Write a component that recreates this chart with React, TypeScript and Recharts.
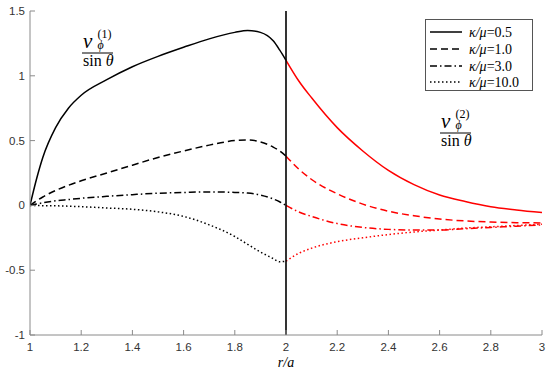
import React from 'react';
import { ComposedChart, Line, XAxis, YAxis, ReferenceLine } from 'recharts';

// r/a sample positions
const innerX = [1, 1.025, 1.05, 1.1, 1.15, 1.2, 1.3, 1.4, 1.5, 1.6, 1.7, 1.8, 1.85, 1.9, 1.95, 1.975, 2.0];
const outerX = [2.0, 2.05, 2.1, 2.2, 2.3, 2.4, 2.5, 2.6, 2.7, 2.8, 2.9, 3.0];

// inner region (black) values, v_phi^(1)/sin(theta)
const inner05 = [0, 0.2, 0.37, 0.6, 0.75, 0.85, 0.97, 1.07, 1.15, 1.22, 1.285, 1.335, 1.35, 1.335, 1.27, 1.2, 1.12];
const inner10 = [0, 0.035, 0.065, 0.115, 0.155, 0.19, 0.25, 0.31, 0.37, 0.42, 0.465, 0.5, 0.505, 0.49, 0.45, 0.42, 0.38];
const inner30 = [0, 0.01, 0.02, 0.035, 0.045, 0.055, 0.07, 0.083, 0.094, 0.1, 0.104, 0.1, 0.095, 0.08, 0.05, 0.028, 0.0];
const inner100 = [0, -0.001, -0.002, -0.003, -0.006, -0.01, -0.02, -0.03, -0.05, -0.085, -0.15, -0.24, -0.3, -0.36, -0.41, -0.435, -0.43];

// outer region (red) values, v_phi^(2)/sin(theta)
const outer05 = [1.12, 0.96, 0.83, 0.6, 0.42, 0.27, 0.16, 0.08, 0.03, -0.01, -0.035, -0.055];
const outer10 = [0.38, 0.28, 0.2, 0.09, 0.01, -0.045, -0.08, -0.105, -0.12, -0.128, -0.133, -0.135];
const outer30 = [0, -0.05, -0.085, -0.14, -0.17, -0.185, -0.19, -0.19, -0.18, -0.17, -0.16, -0.15];
const outer100 = [-0.43, -0.37, -0.33, -0.28, -0.25, -0.225, -0.205, -0.19, -0.175, -0.165, -0.155, -0.145];

const xTicks = [1, 1.2, 1.4, 1.6, 1.8, 2, 2.2, 2.4, 2.6, 2.8, 3];
const yTicks = [-1, -0.5, 0, 0.5, 1, 1.5];
const legendLabels = ['0.5', '1.0', '3.0', '10.0'];

const toPts = (xs: number[], ys: number[]) => xs.map((x, i) => ({ x, y: ys[i] }));

const dashes = ['', '7 4', '7 3 1.5 3', '1.5 2.5'];
const innerSeries = [inner05, inner10, inner30, inner100];
const outerSeries = [outer05, outer10, outer30, outer100];

const AXIS = '#8a8a8a';
const TICKFONT = { fill: '#333', fontSize: 11.5, fontFamily: '"Liberation Sans", Arial, sans-serif' };
const SERIF = '"Liberation Serif", "Times New Roman", serif';
const serifStyle = { fontFamily: SERIF };

function Fraction({ dx, dy, sup }: { dx: number; dy: number; sup: string }) {
  return (
    <g transform={`translate(${dx},${dy})`} style={serifStyle} fill="#000">
      <text x={83} y={48} fontSize={21} fontStyle="italic" style={serifStyle}>ν</text>
      <text x={97.5} y={38} fontSize={12} style={serifStyle}>({sup})</text>
      <text x={97.5} y={49} fontSize={12} fontStyle="italic" style={serifStyle}>ϕ</text>
      <line x1={82} x2={113} y1={53} y2={53} stroke="#000" strokeWidth={1} />
      <text x={83} y={66} fontSize={16} style={serifStyle}>
        sin <tspan fontStyle="italic">θ</tspan>
      </text>
    </g>
  );
}

export default function App() {
  const rows = [32, 49, 66, 82];
  return (
    <div style={{ position: 'absolute', left: 0, top: 0, width: 550, height: 376, background: '#fff' }}>
      <ComposedChart width={550} height={376} margin={{ top: 11, right: 8, left: 0, bottom: 11 }}>
        <XAxis
          xAxisId="b"
          type="number"
          dataKey="x"
          domain={[1, 3]}
          ticks={xTicks}
          allowDataOverflow
          height={30}
          stroke={AXIS}
          tickSize={-5}
          tickMargin={13}
          tick={TICKFONT}
          interval={0}
        />
        <XAxis
          xAxisId="t"
          type="number"
          dataKey="x"
          orientation="top"
          mirror
          domain={[1, 3]}
          ticks={xTicks}
          allowDataOverflow
          height={0}
          stroke={AXIS}
          tickSize={5}
          tick={false}
          interval={0}
        />
        <YAxis
          yAxisId="l"
          type="number"
          domain={[-1, 1.5]}
          ticks={yTicks}
          allowDataOverflow
          width={30}
          stroke={AXIS}
          tickSize={-5}
          tickMargin={10}
          tick={TICKFONT}
          interval={0}
        />
        <YAxis
          yAxisId="r"
          type="number"
          orientation="right"
          mirror
          domain={[-1, 1.5]}
          ticks={yTicks}
          allowDataOverflow
          width={0}
          stroke={AXIS}
          tickSize={5}
          tick={false}
          interval={0}
        />
        {innerSeries.map((s, i) => (
          <Line
            key={'in' + i}
            xAxisId="b"
            yAxisId="l"
            data={toPts(innerX, s)}
            dataKey="y"
            type="monotone"
            stroke="#000"
            strokeWidth={1.5}
            strokeDasharray={dashes[i] || undefined}
            dot={false}
            activeDot={false}
            isAnimationActive={false}
          />
        ))}
        {outerSeries.map((s, i) => (
          <Line
            key={'out' + i}
            xAxisId="b"
            yAxisId="l"
            data={toPts(outerX, s)}
            dataKey="y"
            type="monotone"
            stroke="#ff0000"
            strokeWidth={1.5}
            strokeDasharray={dashes[i] || undefined}
            dot={false}
            activeDot={false}
            isAnimationActive={false}
          />
        ))}
        <ReferenceLine xAxisId="b" yAxisId="l" x={2} stroke="#000" strokeWidth={1.6} />
      </ComposedChart>
      <svg width={550} height={376} style={{ position: 'absolute', left: 0, top: 0, pointerEvents: 'none' }}>
        <Fraction dx={0} dy={0} sup="1" />
        <Fraction dx={358} dy={80} sup="2" />
        <rect x={425.5} y={19.5} width={107} height={71} fill="#fff" stroke="#555" strokeWidth={1} />
        {rows.map((cy, i) => (
          <g key={i}>
            <line x1={430} x2={462} y1={cy} y2={cy} stroke="#000" strokeWidth={1.5} strokeDasharray={dashes[i] || undefined} />
            <text x={469} y={cy + 4.5} fontSize={14} fill="#000" style={serifStyle}>
              <tspan fontStyle="italic">κ/μ</tspan>={legendLabels[i]}
            </text>
          </g>
        ))}
        <text x={286} y={367} textAnchor="middle" fontSize={14} fontStyle="italic" fill="#000" style={serifStyle}>
          r/a
        </text>
      </svg>
    </div>
  );
}
